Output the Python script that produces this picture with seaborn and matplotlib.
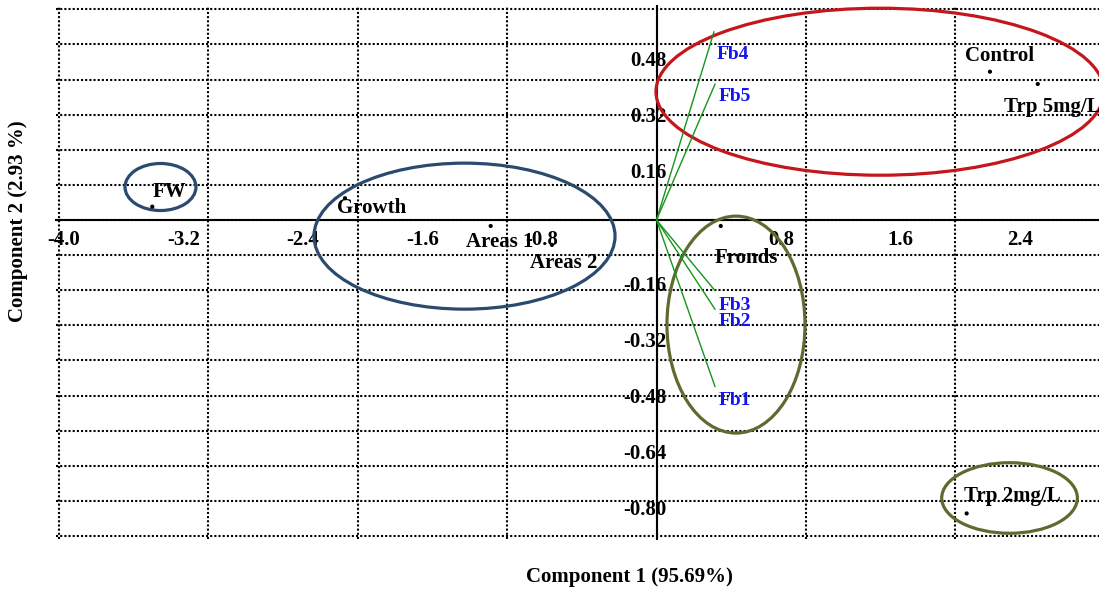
import numpy as np
import pandas as pd
import matplotlib
matplotlib.use("Agg")
import matplotlib.pyplot as plt
import matplotlib.transforms as mtransforms
from matplotlib.patches import Ellipse
from matplotlib.ticker import MultipleLocator
import seaborn as sns

# ---- data -------------------------------------------------------------
score_names = ["FW", "Growth", "Areas 1", "Areas 2", "Fronds",
               "Control", "Trp 5mg/L", "Trp 2mg/L"]
score_pc1 = [-3.375, -2.085, -1.110, -0.700, 0.430, 2.232, 2.552, 2.076]
score_pc2 = [0.038, 0.062, -0.017, -0.071, -0.017, 0.4225, 0.3875, -0.836]

loading_names = ["Fb1", "Fb2", "Fb3", "Fb4", "Fb5"]
loading_pc1 = [0.392, 0.392, 0.392, 0.385, 0.392]
loading_pc2 = [-0.475, -0.2545, -0.2014, 0.5365, 0.3875]

# group ellipses: centre x, centre y, width, height
ellipse_cx = [-3.32, -1.285, 1.496, 0.532, 2.363]
ellipse_cy = [0.094, -0.046, 0.3655, -0.298, -0.792]
ellipse_w = [0.475, 2.015, 2.999, 0.924, 0.908]
ellipse_h = [0.134, 0.416, 0.4758, 0.618, 0.201]
ellipse_colors = ["#2b4a6e", "#2b4a6e", "#c4161c", "#5c6b30", "#5c6b30"]

xtick_values = [-4.0, -3.2, -2.4, -1.6, -0.8, 0.8, 1.6, 2.4]
xtick_labels = ["-4.0", "-3.2", "-2.4", "-1.6", "-0.8", "0.8", "1.6", "2.4"]
ytick_values = [0.48, 0.32, 0.16, -0.16, -0.32, -0.48, -0.64, -0.80]
ytick_labels = ["0.48", "0.32", "0.16", "-0.16", "-0.32", "-0.48", "-0.64", "-0.80"]

# ---- styling ----------------------------------------------------------
sns.set_theme(style="white")
plt.rcParams["font.family"] = ["Liberation Serif", "DejaVu Serif"]
plt.rcParams["font.weight"] = "bold"
plt.rcParams["axes.unicode_minus"] = False

W, H, DPI = 1099, 590, 100
fig = plt.figure(figsize=(W / DPI, H / DPI), dpi=DPI)

xlim = (-4.02, 2.962)
ylim = (-0.91, 0.61)
px_x, px_y = 149.4, 351.0      # pixels per data unit
origin_px = (656.5, 220.0)
left = origin_px[0] + xlim[0] * px_x
right = origin_px[0] + xlim[1] * px_x
top = origin_px[1] - ylim[1] * px_y
bottom = origin_px[1] - ylim[0] * px_y
ax = fig.add_axes([left / W, 1 - bottom / H, (right - left) / W, (bottom - top) / H])
ax.set_xlim(*xlim)
ax.set_ylim(*ylim)

# dotted grid on whole units (x) and tenths (y)
ax.xaxis.set_minor_locator(MultipleLocator(1.0))
ax.yaxis.set_minor_locator(MultipleLocator(0.1))
ax.xaxis.remove_overlapping_locs = False
ax.yaxis.remove_overlapping_locs = False
ax.grid(False, which="major")
ax.grid(True, which="minor", color="black", linestyle=(0, (1.0, 1.0)), linewidth=1.5)
ax.tick_params(which="minor", length=0)
ax.set_axisbelow(True)

# axes crossing at the origin
for side in ("top", "right"):
    ax.spines[side].set_visible(False)
for side in ("left", "bottom"):
    ax.spines[side].set_position(("data", 0))
    ax.spines[side].set_color("black")
    ax.spines[side].set_linewidth(1.5)
    ax.spines[side].set_zorder(3)

ax.set_xticks(xtick_values)
ax.set_xticklabels(xtick_labels)
ax.set_yticks(ytick_values)
ax.set_yticklabels(ytick_labels)
ax.tick_params(axis="x", which="major", direction="out", length=4, width=1.2,
               color="black", pad=3.5, labelsize=15, labelcolor="black")
ax.tick_params(axis="y", which="major", length=0, pad=-7.2,
               labelsize=15, labelcolor="black")
for lab in ax.get_xticklabels() + ax.get_yticklabels():
    lab.set_fontweight("bold")
xoff = mtransforms.ScaledTranslation(5 / DPI, 0, fig.dpi_scale_trans)
for lab in ax.get_xticklabels():
    lab.set_transform(lab.get_transform() + xoff)
yoff = mtransforms.ScaledTranslation(0, -7 / DPI, fig.dpi_scale_trans)
for lab in ax.get_yticklabels():
    lab.set_transform(lab.get_transform() + yoff)
ax.set_xlabel("")
ax.set_ylabel("")

# group ellipses
for cx, cy, w, h, c in zip(ellipse_cx, ellipse_cy, ellipse_w, ellipse_h, ellipse_colors):
    ax.add_patch(Ellipse((cx, cy), w, h, fill=False, edgecolor=c, linewidth=2.3, zorder=4))

# loading vectors from the origin
load_rows = []
for n, x, y in zip(loading_names, loading_pc1, loading_pc2):
    load_rows.append({"var": n, "pc1": 0.0, "pc2": 0.0, "step": 0})
    load_rows.append({"var": n, "pc1": x, "pc2": y, "step": 1})
loads = pd.DataFrame(load_rows)
sns.lineplot(data=loads, x="pc1", y="pc2", units="var", estimator=None, sort=False,
             color="#14961a", linewidth=1.0, legend=False, ax=ax, zorder=5)
ax.set_xlabel("")
ax.set_ylabel("")

load_label_off = [(4, -18), (4, -17), (4, -19), (3, -27), (4, -17)]
for n, x, y, off in zip(loading_names, loading_pc1, loading_pc2, load_label_off):
    ax.annotate(n, (x, y), xytext=off, textcoords="offset pixels", ha="left",
                va="baseline", fontsize=14, fontweight="bold", color="#1414f0", zorder=6)

# scores
scores = pd.DataFrame({"name": score_names, "pc1": score_pc1, "pc2": score_pc2})
sns.scatterplot(data=scores, x="pc1", y="pc2", color="black", s=9, edgecolor="none",
                legend=False, ax=ax, zorder=6)
ax.set_xlabel("")
ax.set_ylabel("")

score_label_off = [(0, 10), (-8, -15), (-25, -21), (-22, -23), (-6, -37),
                   (-25, 11), (-34, -28), (-3, 12)]
for n, x, y, off in zip(score_names, score_pc1, score_pc2, score_label_off):
    ax.annotate(n, (x, y), xytext=off, textcoords="offset pixels", ha="left",
                va="baseline", fontsize=15, fontweight="bold", color="black", zorder=6)

fig.text(629.5 / W, 1 - 577 / H, "Component 1 (95.69%)", ha="center", va="center",
         fontsize=15, fontweight="bold", color="black")
fig.text(18 / W, 1 - 221 / H, "Component 2 (2.93 %)", ha="center", va="center",
         rotation=90, fontsize=15, fontweight="bold", color="black")

fig.savefig("out.png", dpi=DPI, facecolor="white")
